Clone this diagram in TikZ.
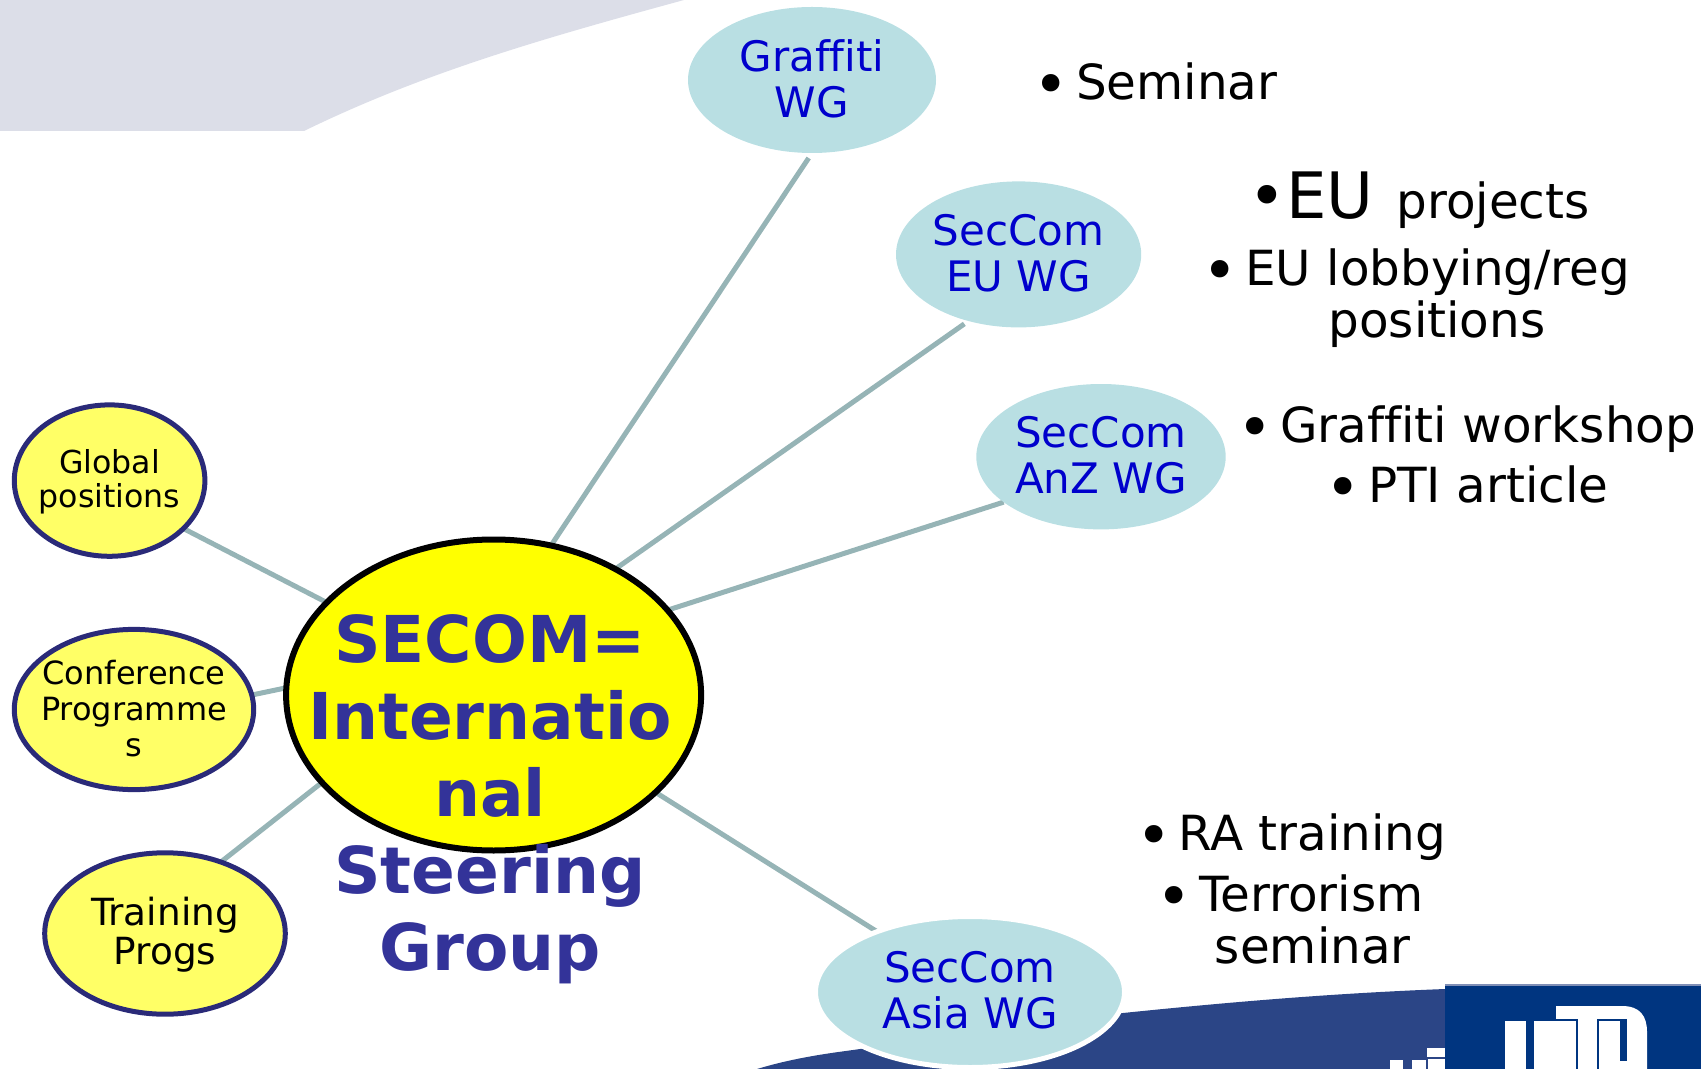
\documentclass[tikz,border=0pt]{standalone}
\usepackage{fontspec}
\setmainfont[Ligatures=NoCommon]{DejaVu Sans}
\usetikzlibrary{shapes.geometric,backgrounds}
\definecolor{wgfill}{HTML}{B9DFE3}
\definecolor{wgtext}{HTML}{0000CC}
\definecolor{sidefill}{HTML}{FFFF66}
\definecolor{mainfill}{HTML}{FFFF00}
\definecolor{sideline}{HTML}{2A2A78}
\definecolor{mainink}{HTML}{333399}
\definecolor{conn}{HTML}{96B4B6}
\definecolor{lav}{HTML}{DCDEE8}
\definecolor{bandblue}{HTML}{2B4586}
\definecolor{logoblue}{HTML}{003580}
\tikzset{
  x=0.5pt,y=-0.5pt,
  oval/.style={ellipse,inner sep=0pt,outer sep=0pt},
  wg/.style={oval,fill=wgfill},
  sidenode/.style={oval,fill=sidefill,draw=sideline,line width=2.5pt},
  wgtextstyle/.style={align=center,inner sep=0pt,text=wgtext,font=\fontsize{21}{22.8}\selectfont},
  sidetext/.style={align=center,inner sep=0pt,text=black},
  bul/.style={anchor=base,align=center,inner sep=0pt,text=black,font=\fontsize{24.2}{26}\selectfont},
  link/.style={draw=conn,line width=2.5pt},
}
\newcommand{\bigbul}{\raisebox{-3pt}{\fontsize{30}{30}\selectfont •}}
\newcommand{\bu}{\bigbul\hspace{3.5pt}}
\begin{document}
\begin{tikzpicture}
\useasboundingbox (0,0) rectangle (1701,1069);
% ellipses
\node[wg,minimum width=124pt,minimum height=73pt] (graffiti) at (812,80) {};
\node[wg,minimum width=122.6pt,minimum height=73pt] (eu) at (1018.6,254.4) {};
\node[wg,minimum width=124.7pt,minimum height=72.7pt] (anz) at (1101,456.7) {};
\node[wg,draw=white,line width=2.5pt,minimum width=154.5pt,minimum height=75.5pt] (asia) at (970,992) {};
\node[sidenode,minimum width=95.3pt,minimum height=75.7pt] (global) at (109.6,480.6) {};
\node[sidenode,minimum width=119.7pt,minimum height=80.1pt] (conf) at (134,709.5) {};
\node[sidenode,minimum width=120.3pt,minimum height=80.7pt] (train) at (165,933.5) {};
\node[oval,fill=mainfill,draw=black,line width=3pt,minimum width=207.5pt,minimum height=155.5pt] (central) at (493.6,695) {};
% labels
\node[wgtextstyle] (graffitiL) at (812,79) {Graffiti\\WG};
\node[wgtextstyle] (euL) at (1018.6,253) {SecCom\\EU WG};
\node[wgtextstyle] (anzL) at (1101,455) {SecCom\\AnZ WG};
\node[wgtextstyle] (asiaL) at (970,990) {SecCom\\Asia WG};
\node[sidetext,font=\fontsize{15.8}{16.8}\selectfont] (globalL) at (109.6,482) {Global\\positions};
\node[sidetext,font=\fontsize{16}{18}\selectfont] (confL) at (134,709) {Conference\\Programme\\s};
\node[sidetext,font=\fontsize{18.7}{19.5}\selectfont] (trainL) at (165,935) {Training\\Progs};
\node[align=center,inner sep=0pt,text=mainink,font=\fontsize{32.3}{38.5}\selectfont\bfseries] (centralL) at (490,799) {SECOM=\\Internatio\\nal\\Steering\\Group};
% bullet lists
\node[bul] (b1) at (1155.5,99.8) {\bu Seminar};
\node[bul] (b2) at (1419,219) {{\fontsize{32}{32}\selectfont •EU}\hspace{11.5pt}projects};
\node[bul] (b3) at (1416.5,337.4) {\bu EU lobbying/reg\\\hspace*{20.4pt}positions};
\node[bul] (b4) at (1467,442.6) {\bu Graffiti workshop};
\node[bul] (b5) at (1467,502.3) {\bu PTI article};
\node[bul] (b6) at (1291.2,850.5) {\bu RA training};
\node[bul] (b7) at (1290.2,963.3) {\bu Terrorism\\\hspace*{22.6pt}seminar};
% background art and connectors
\begin{scope}[on background layer]
  \fill[lav] (0,0) -- (684,0) .. controls (545,38) and (425,72) .. (304,131) -- (0,131) -- cycle;
  \fill[bandblue] (757,1069) .. controls (800,1056) and (840,1052) .. (860,1049)
     .. controls (950,1030) and (1040,1021) .. (1123,1013)
     .. controls (1240,1001) and (1340,993) .. (1445,989) -- (1445,1069) -- cycle;
  \fill[white] (1390,1060) rectangle (1403,1069);
  \fill[white] (1412,1060) -- (1427,1060) -- (1427,1048) -- (1445,1048) -- (1445,1069) -- (1412,1069) -- cycle;
  \draw[bandblue,line width=0.7pt] (1427,1058) -- (1445,1058);
  \draw[bandblue,line width=0.7pt] (1427,1058) -- (1427,1069);
  \draw[link,shorten >=3pt] (central.69.4) -- (graffiti.south);
  \draw[link,shorten >=2.5pt] (central.46) -- (eu.233.6);
  \draw[link] (central.26.6) -- (anz.205.3);
  \draw[link] (central.-31.4) -- (asia.147.4);
  \draw[link] (central.151) -- (global.-33);
  \draw[link] (central.178.8) -- (conf.7);
  \draw[link] (central.207.5) -- (train.52.7);
\end{scope}
% logo
\fill[logoblue] (1445,986) rectangle (1701,1069);
\fill[bandblue!60!white] (1445,984) rectangle (1701,986);
\fill[white] (1505,1021) rectangle (1526,1069);
\fill[white] (1534,1069) -- (1534,1021) -- (1556,1021) -- (1556,1006) -- (1622,1006)
   .. controls (1640,1006) and (1647,1016) .. (1647,1032) -- (1647,1069) -- cycle;
\draw[logoblue,line width=1pt] (1556,1020) -- (1577,1020) -- (1577,1069);
\draw[logoblue,line width=1pt] (1598,1069) -- (1598,1020) -- (1620,1020);
\fill[logoblue] (1620,1019) rectangle (1627,1061);
\end{tikzpicture}
\end{document}
